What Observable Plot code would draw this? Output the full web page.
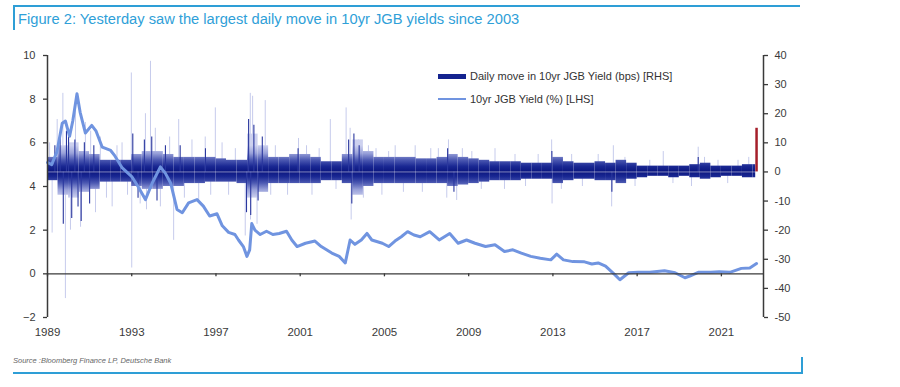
<!DOCTYPE html>
<html><head><meta charset="utf-8">
<script src="https://cdn.jsdelivr.net/npm/d3@7"></script>
<script src="https://cdn.jsdelivr.net/npm/@observablehq/plot@0.6"></script>
<style>
body{margin:0;background:#fff;}
#wrap{position:relative;width:900px;height:387px;overflow:hidden;font-family:"Liberation Sans",Arial,sans-serif;}
#chart{position:absolute;left:0;top:0;}
.bl{position:absolute;background:#2e9ed6;}
.title{position:absolute;left:18px;top:11px;font-size:14.7px;line-height:16px;color:#2fa0d8;font-family:"Liberation Sans Narrow","Liberation Sans",Arial,sans-serif;font-stretch:condensed;white-space:nowrap;}
.src{position:absolute;left:13px;top:356px;font-size:7.5px;font-style:italic;color:#666;white-space:nowrap;}
.lg{position:absolute;font-size:11px;color:#333;white-space:nowrap;line-height:13px;}
.sw{position:absolute;}
</style></head>
<body>
<div id="wrap">
  <div id="chart"></div>
  <div class="bl" style="left:13px;top:5px;width:787px;height:2px"></div>
  <div class="bl" style="left:13px;top:5px;width:2px;height:25px"></div>
  <div class="bl" style="left:13px;top:372px;width:790px;height:2px"></div>
  <div class="bl" style="left:801px;top:357px;width:2px;height:17px"></div>
  <div class="title">Figure 2: Yesterday saw the largest daily move in 10yr JGB yields since 2003</div>
  <div class="sw" style="left:438px;top:74px;width:28px;height:5px;background:#14238f"></div>
  <div class="lg" style="left:470px;top:70px">Daily move in 10yr JGB Yield (bps) [RHS]</div>
  <div class="sw" style="left:438px;top:98px;width:28px;height:2px;background:#7094e0"></div>
  <div class="lg" style="left:470px;top:93px">10yr JGB Yield (%) [LHS]</div>
  <div class="src">Source :Bloomberg Finance LP, Deutsche Bank</div>
</div>
<script>
// ---- data ----
const xTickYears = [1989, 1993, 1997, 2001, 2005, 2009, 2013, 2017, 2021];
const leftTicks = [-2, 0, 2, 4, 6, 8, 10];
const rightTicks = [-50, -40, -30, -20, -10, 0, 10, 20, 30, 40];

// 10yr JGB yield (%), [year, value]
const yieldPoints = [
  [1989.0,5.1],[1989.2,5.0],[1989.45,5.6],[1989.7,6.9],[1989.85,7.0],[1990.05,6.3],[1990.2,7.0],[1990.4,8.25],
  [1990.55,7.4],[1990.8,6.45],[1991.1,6.8],[1991.3,6.55],[1991.6,5.8],[1992.0,5.65],[1992.2,5.4],[1992.55,4.85],
  [1993.0,4.45],[1993.3,4.0],[1993.65,3.4],[1993.97,4.15],[1994.36,4.9],[1994.6,4.6],[1994.85,4.15],[1995.15,2.95],
  [1995.4,2.8],[1995.7,3.25],[1996.1,3.4],[1996.4,3.1],[1996.7,2.65],[1997.05,2.75],[1997.3,2.2],[1997.6,1.9],
  [1997.9,1.8],[1998.07,1.55],[1998.3,1.25],[1998.47,0.8],[1998.6,1.1],[1998.7,2.3],[1998.85,2.0],[1999.1,1.8],
  [1999.4,1.95],[1999.7,1.8],[2000.0,1.85],[2000.35,1.95],[2000.6,1.55],[2000.85,1.25],[2001.25,1.4],[2001.7,1.5],
  [2002.0,1.25],[2002.5,0.95],[2002.85,0.8],[2003.14,0.5],[2003.37,1.55],[2003.6,1.35],[2003.9,1.55],[2004.17,1.85],
  [2004.4,1.55],[2004.9,1.4],[2005.2,1.25],[2005.5,1.5],[2005.8,1.7],[2006.1,1.93],[2006.4,1.78],[2006.7,1.7],
  [2007.15,1.93],[2007.6,1.55],[2008.1,1.85],[2008.5,1.4],[2008.9,1.55],[2009.3,1.4],[2009.8,1.25],[2010.25,1.33],
  [2010.7,1.02],[2011.1,1.1],[2011.5,0.95],[2011.95,0.8],[2012.4,0.71],[2012.9,0.64],[2013.18,0.9],[2013.5,0.64],
  [2013.95,0.56],[2014.5,0.55],[2014.85,0.45],[2015.15,0.5],[2015.5,0.35],[2015.95,-0.05],[2016.18,-0.27],[2016.6,0.05],
  [2017.05,0.07],[2017.6,0.07],[2018.3,0.14],[2018.8,0.05],[2019.27,-0.18],[2019.5,-0.1],[2019.9,0.07],[2020.5,0.07],
  [2020.9,0.1],[2021.4,0.07],[2021.95,0.25],[2022.35,0.27],[2022.67,0.47]
];

// Dense band of daily moves (bps), per half-year
const coreStartYears = [1989.0,1989.5,1990.0,1990.5,1991.0,1991.5,1992.0,1992.5,1993.0,1993.5,1994.0,1994.5,1995.0,1995.5,1996.0,1996.5,
  1997.0,1997.5,1998.0,1998.5,1999.0,1999.5,2000.0,2000.5,2001.0,2001.5,2002.0,2002.5,2003.0,2003.5,2004.0,2004.5,
  2005.0,2005.5,2006.0,2006.5,2007.0,2007.5,2008.0,2008.5,2009.0,2009.5,2010.0,2010.5,2011.0,2011.5,2012.0,2012.5,
  2013.0,2013.5,2014.0,2014.5,2015.0,2015.5,2016.0,2016.5,2017.0,2017.5,2018.0,2018.5,2019.0,2019.5,2020.0,2020.5,
  2021.0,2021.5,2022.0,2022.5];
const coreUpBps = [5,9,10,7,6,4,4,4,6,7,7,6,5,5,5,5,
  4.5,4,4,13,9,5,5,6,6,5,3.5,3.5,6,11,7,5,
  5,5,5,4.5,4.5,5,6,5,4.5,4,3.5,3.5,3.5,3,3,3,
  5,3.5,3,3,3.5,3,4,3,2,2,2,2,2,2.5,3,2,
  2,2,2.5,2.5];
const coreDownBps = [-3,-8,-9,-7,-6,-3.5,-3.5,-3.5,-5,-6,-6,-5,-5,-4,-4,-3.5,
  -3.5,-3.5,-4,-9,-7,-4,-4,-4,-4,-4,-3,-3,-4,-8,-5,-4,
  -4,-4,-4,-4,-4,-4,-5,-4.5,-4,-3.5,-3,-3,-3,-2.5,-2.5,-2.5,
  -4,-3,-2.5,-2.5,-3,-3,-4,-2.5,-2,-1.5,-1.5,-2,-1.5,-2,-2.5,-2,
  -1.5,-1.5,-2,-2];

// Individual large daily moves (bps): darker ones inside the band, pale ones outside
const darkSpikes = [
  [1989.35,9],[1989.6,13],[1989.75,-18],[1989.9,14],[1990.0,12],[1990.15,-16],[1990.3,11],[1990.45,-12],[1990.6,-17],
  [1990.75,10],[1991.0,-11],[1991.2,9],[1993.05,13],[1993.3,-9],[1993.6,11],[1993.95,12],[1994.2,-10],[1994.6,9],
  [1995.3,9],[1996.5,8],[1998.45,-14],[1998.55,18],[1998.65,-15],[1998.8,16],[1999.0,-10],[1999.2,12],[2000.9,8],
  [2003.3,11],[2003.45,-11],[2003.55,13],[2003.8,9],[2008.0,8],[2008.3,-7],[2012.95,7],[2015.8,-7],[2019.9,5]
];
const lightSpikes = [
  [1989.1,10],[1989.22,-21],[1989.46,18],[1989.73,27],[1989.85,-43.5],[1990.09,-20],[1990.33,22],[1990.57,-19],
  [1990.8,17],[1991.05,14],[1991.28,-14],[1991.51,12],[1991.8,-9],[1992.07,-12],[1992.3,9],[1992.54,10],[1992.8,-8],
  [1992.98,34],[1993.0,-33],[1993.4,-11],[1993.65,20],[1993.7,-13],[1993.89,38],[1994.12,15],[1994.36,-12],[1994.8,12],
  [1994.99,-23.5],[1995.23,18],[1995.5,-9],[1995.86,11],[1996.18,-10],[1996.49,12],[1996.75,-8],[1996.97,22],[1997.29,10],
  [1997.6,-8],[1997.92,8],[1998.39,-22],[1998.63,27],[1998.64,-16.5],[1998.74,26],[1998.95,-18],[1999.34,24.5],[1999.6,-8],
  [1999.82,9],[2000.4,-8],[2000.92,11.5],[2001.3,9],[2001.56,-8],[2001.9,8],[2002.43,18],[2002.7,-6],[2003.18,22],
  [2003.37,15],[2003.42,-16.5],[2003.77,11],[2004.0,-9],[2004.24,9],[2004.6,8],[2004.88,-8],[2005.2,7],[2005.51,9],
  [2005.9,-7],[2006.46,9],[2006.8,-7],[2007.2,8],[2007.56,8],[2007.96,-9],[2008.04,11],[2008.43,-9.8],[2008.7,8],
  [2009.15,7],[2009.6,-6],[2010.25,8],[2010.7,-6],[2011.2,6],[2011.7,-5],[2012.3,6],[2012.94,11],[2012.96,-11],
  [2013.4,-6],[2013.89,6],[2014.4,-5],[2015.15,6],[2015.79,-12],[2015.87,9],[2016.42,5],[2016.9,-5],[2017.6,4],
  [2018.24,7],[2018.7,-4],[2019.58,-5],[2019.9,8.5],[2020.2,5],[2020.84,4],[2021.3,-4],[2021.79,4],[2022.3,5]
];
// Latest daily move (bps)
const latestMove = [[2022.67, 15]];

// ---- scales ----
const leftDomain = [-2, 10];
const rightDomain = [-50, 40];
const toLeft = b => leftDomain[0] + (b - rightDomain[0]) * (leftDomain[1] - leftDomain[0]) / (rightDomain[1] - rightDomain[0]);
const toBps = v => rightDomain[0] + (v - leftDomain[0]) * (rightDomain[1] - rightDomain[0]) / (leftDomain[1] - leftDomain[0]);

const W = 900, H = 387, mT = 55, mB = 70, mL = 47, mR = 137;
const zeroOffset = (H - mT - mB) * (0 - leftDomain[0]) / (leftDomain[1] - leftDomain[0]);

const core = coreStartYears.map((s, i) => ({
  x1: s, x2: i < coreStartYears.length - 1 ? coreStartYears[i + 1] : latestMove[0][0] - 0.04,
  up: coreUpBps[i], down: coreDownBps[i]
}));
const axisColor = "#3a3a3a";

const plot = Plot.plot({
  width: W, height: H,
  marginTop: mT, marginBottom: mB, marginLeft: mL, marginRight: mR,
  style: {fontFamily: "'Liberation Sans', Arial, sans-serif", fontSize: "11px", color: "#333", background: "transparent"},
  x: {domain: [1989, 2023], label: null},
  y: {domain: leftDomain, label: null},
  marks: [
    Plot.ruleX(lightSpikes, {x: d => d[0], y1: toLeft(0), y2: d => toLeft(d[1]), stroke: "#c6cbec", strokeWidth: 1}),
    Plot.rectY(core, {x1: "x1", x2: "x2", y1: d => toLeft(d.down), y2: d => toLeft(d.up), fill: "#14238f", className: "band"}),
    Plot.ruleX(darkSpikes, {x: d => d[0], y1: toLeft(0), y2: d => toLeft(d[1]), stroke: "#2a379e", strokeWidth: 1.1}),
    Plot.ruleY([toLeft(0)], {stroke: "white", strokeWidth: 0.8, strokeOpacity: 0.6}),
    Plot.ruleX(latestMove, {x: d => d[0], y1: toLeft(0), y2: d => toLeft(d[1]), stroke: "#a51f2a", strokeWidth: 2.5}),
    Plot.line(yieldPoints, {x: d => d[0], y: d => d[1], stroke: "#7094e0", strokeWidth: 3, strokeLinejoin: "round"}),
    Plot.ruleY([0], {stroke: axisColor, strokeWidth: 1.3}),
    Plot.ruleX([1989], {stroke: axisColor, strokeWidth: 1.5}),
    Plot.ruleX([2023], {stroke: axisColor, strokeWidth: 1.5}),
    Plot.axisY(leftTicks, {anchor: "left", tickSize: 4, tickPadding: 8, color: axisColor, label: null, strokeWidth: 1.3}),
    Plot.axisY(rightTicks.map(toLeft), {anchor: "right", tickSize: 4, tickPadding: 7, color: axisColor, label: null, strokeWidth: 1.3,
      tickFormat: v => String(Math.round(toBps(v)))}),
    Plot.axisX(xTickYears, {anchor: "bottom", tickSize: 3, tickFormat: () => "", dy: -zeroOffset, color: axisColor, label: null, strokeWidth: 1.3}),
    Plot.axisX(xTickYears, {anchor: "bottom", tickSize: 0, tickPadding: 10, tickFormat: d => String(d), color: axisColor, label: null, fontSize: 11.5})
  ]
});

// vertical gradient for the dense band: darkest at the zero line, paler towards the tips
const ys = plot.scale("y");
const yTop = ys.apply(toLeft(9)), yBot = ys.apply(toLeft(-9));
const stops = [
  [0, "#cdd1ef"], [0.15, "#9aa2da"], [0.28, "#4c59b2"], [0.4, "#1a2893"], [0.5, "#0b1680"],
  [0.6, "#1a2893"], [0.72, "#4c59b2"], [0.85, "#9aa2da"], [1, "#cdd1ef"]
];
const svg = d3.select(plot);
const defs = svg.insert("defs", ":first-child");
const g = defs.append("linearGradient").attr("id", "bandGrad").attr("gradientUnits", "userSpaceOnUse")
  .attr("x1", 0).attr("x2", 0).attr("y1", yTop).attr("y2", yBot);
stops.forEach(([o, c]) => g.append("stop").attr("offset", o).attr("stop-color", c));
svg.selectAll("g.band, .band").attr("fill", "url(#bandGrad)");
svg.selectAll(".band rect").attr("fill", "url(#bandGrad)");

document.getElementById("chart").appendChild(plot);
</script>
</body></html>
